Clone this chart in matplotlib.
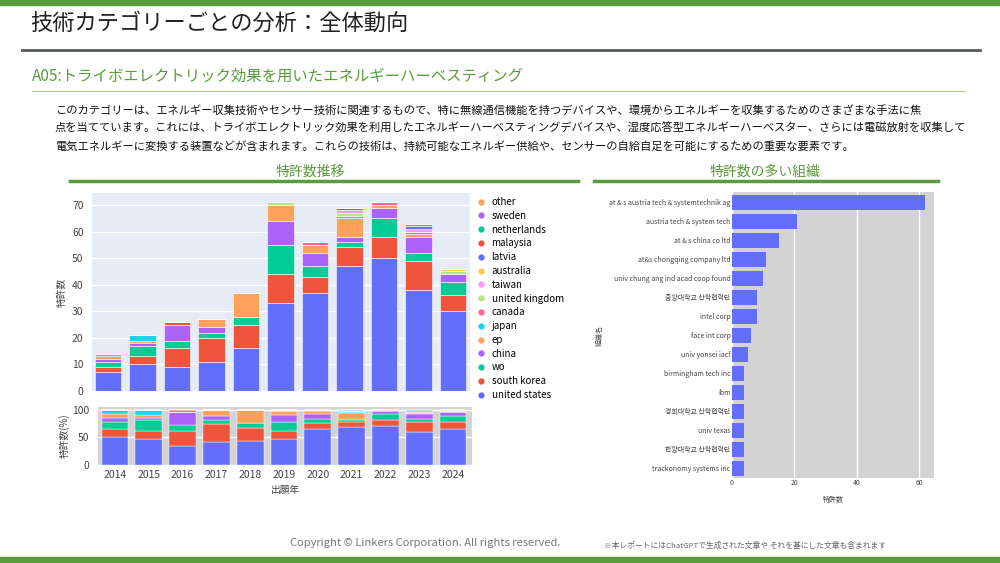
import numpy as np
import matplotlib.pyplot as plt
from matplotlib.lines import Line2D

plt.rcParams['font.family'] = ['Noto Sans CJK JP', 'Noto Sans CJK KR', 'DejaVu Sans']

years = [2014, 2015, 2016, 2017, 2018, 2019, 2020, 2021, 2022, 2023, 2024]

# patent counts per country (bottom of stack first)
united_states = [7, 10, 9, 11, 16, 33, 37, 47, 50, 38, 30]
south_korea = [2, 3, 7, 9, 9, 11, 6, 7, 8, 11, 6]
wo = [2, 4, 3, 2, 3, 11, 4, 2, 7, 3, 5]
china = [1, 1, 6, 2, 0, 9, 5, 2, 4, 6, 3]
ep = [1, 1, 0, 3, 9, 6, 3, 7, 1, 1, 0]
japan = [1, 2, 0, 0, 0, 0, 0, 1, 0, 0, 0]
canada = [0, 0, 0, 0, 0, 0, 1, 0, 1, 1, 0]
united_kingdom = [0, 0, 0, 0, 0, 1, 0, 1, 0, 0, 1]
taiwan = [0, 0, 0, 0, 0, 0, 0, 1, 0, 1, 0]
australia = [0, 0, 0, 0, 0, 0, 0, 0, 0, 0, 1]
latvia = [0, 0, 0, 0, 0, 0, 0, 1, 0, 1, 0]
malaysia = [0, 0, 1, 0, 0, 0, 0, 0, 0, 0, 0]
netherlands = [0, 0, 0, 0, 0, 0, 0, 0, 0, 1, 0]
sweden = [0, 0, 0, 0, 0, 0, 0, 0, 0, 0, 0]
other = [0, 0, 0, 0, 0, 0, 0, 0, 0, 0, 0]

country_names = ['united states', 'south korea', 'wo', 'china', 'ep', 'japan', 'canada',
                 'united kingdom', 'taiwan', 'australia', 'latvia', 'malaysia',
                 'netherlands', 'sweden', 'other']
country_vals = [united_states, south_korea, wo, china, ep, japan, canada, united_kingdom,
                taiwan, australia, latvia, malaysia, netherlands, sweden, other]

orgs = ['at & s austria tech & systemtechnik ag', 'austria tech & system tech',
        'at & s china co ltd', 'at&s chongqing company ltd', 'univ chung ang ind acad coop found',
        '중앙대학교 산학협력단', 'intel corp', 'face int corp', 'univ yonsei iacf',
        'birmingham tech inc', 'ibm', '경희대학교 산학협력단', 'univ texas',
        '한양대학교 산학협력단', 'trackonomy systems inc']
org_counts = [62, 21, 15, 11, 10, 8, 8, 6, 5, 4, 4, 4, 4, 4, 4]

palette = ['#636EFA', '#EF553B', '#00CC96', '#AB63FA', '#FFA15A', '#19D3F3', '#FF6692',
           '#B6E880', '#FF97FF', '#FECB52']
green = '#5a9b3c'

W, H = 1000, 563
fig = plt.figure(figsize=(10, 5.63), dpi=100)


def box(x0, y0, x1, y1):
    # pixel box -> figure fraction rect
    return [x0 / W, 1 - y1 / H, (x1 - x0) / W, (y1 - y0) / H]


# page decorations
fig.patches.append(plt.Rectangle((0, 1 - 5 / H), 1, 5 / H, transform=fig.transFigure, color=green))
fig.patches.append(plt.Rectangle((0, 0), 1, 6 / H, transform=fig.transFigure, color=green))
fig.add_artist(Line2D([22 / W, 980 / W], [1 - 50 / H] * 2, color='#555a5a', lw=2))
fig.add_artist(Line2D([32 / W, 965 / W], [1 - 91 / H] * 2, color='#a8d08d', lw=0.8))
fig.add_artist(Line2D([70 / W, 578 / W], [1 - 181 / H] * 2, color=green, lw=2.5))
fig.add_artist(Line2D([594 / W, 938 / W], [1 - 181 / H] * 2, color=green, lw=2.5))

fig.text(30 / W, 1 - 23 / H, '技術カテゴリーごとの分析：全体動向', fontsize=16, color='#222222', va='center')
fig.text(32 / W, 1 - 76 / H, 'A05:トライボエレクトリック効果を用いたエネルギーハーベスティング',
         fontsize=11.1, color=green, va='center')
para = ['このカテゴリーは、エネルギー収集技術やセンサー技術に関連するもので、特に無線通信機能を持つデバイスや、環境からエネルギーを収集するためのさまざまな手法に焦',
        '点を当てています。これには、トライボエレクトリック効果を利用したエネルギーハーベスティングデバイスや、湿度応答型エネルギーハーベスター、さらには電磁放射を収集して',
        '電気エネルギーに変換する装置などが含まれます。これらの技術は、持続可能なエネルギー供給や、センサーの自給自足を可能にするための重要な要素です。']
for i, line in enumerate(para):
    fig.text(55 / W, 1 - (110 + i * 18) / H, line, fontsize=8.1, color='#111111', va='center')
fig.text(310 / W, 1 - 172 / H, '特許数推移', fontsize=10, color=green, ha='center', va='center')
fig.text(765 / W, 1 - 172 / H, '特許数の多い組織', fontsize=10, color=green, ha='center', va='center')
fig.text(425 / W, 1 - 543 / H, 'Copyright © Linkers Corporation. All rights reserved.',
         fontsize=8, color='#777777', ha='center', va='center')
fig.text(604 / W, 1 - 546 / H, '※本レポートにはChatGPTで生成された文章や それを基にした文章も含まれます',
         fontsize=5.6, color='#666666', va='center')

x = np.arange(len(years))
vals = np.array(country_vals, dtype=float)
totals = vals.sum(axis=0)

# stacked counts
ax1 = fig.add_axes(box(92, 193, 470, 391))
ax1.set_facecolor('#E5ECF6')
bottom = np.zeros(len(years))
handles = []
for i, (name, v) in enumerate(zip(country_names, vals)):
    c = palette[i % len(palette)]
    ax1.bar(x, v, 0.77, bottom=bottom, color=c, edgecolor='white', linewidth=0.4, zorder=3)
    bottom += v
    handles.append(Line2D([], [], marker='o', ls='', color=c, markersize=3.5, label=name))
ax1.set_xlim(-0.46, 10.49)
ax1.set_ylim(0, 74.5)
ax1.set_yticks(range(0, 71, 10))
ax1.set_xticks([])
ax1.grid(axis='y', color='white', lw=1, zorder=0)
for s in ax1.spines.values():
    s.set_visible(False)
ax1.tick_params(axis='y', length=0, labelsize=7.5, labelcolor='#444444', pad=6)
ax1.set_ylabel('特許数', fontsize=7, color='#444444', labelpad=4)

fig.legend(handles=handles[::-1], loc='upper left', bbox_to_anchor=(476 / W, 1 - 197 / H),
           frameon=False, fontsize=7, labelspacing=0.39, handletextpad=0.6, handlelength=1.0,
           borderaxespad=0, borderpad=0)

# percentage
ax2 = fig.add_axes(box(98, 407, 472, 465))
ax2.set_facecolor('#d3d3d3')
bottom = np.zeros(len(years))
for i, v in enumerate(vals):
    p = v / totals * 100
    ax2.bar(x, p, 0.79, bottom=bottom, color=palette[i % len(palette)], edgecolor='white',
            linewidth=0.3, zorder=3)
    bottom += p
ax2.set_xlim(-0.5, 10.56)
ax2.set_ylim(0, 105)
ax2.set_yticks([0, 50, 100])
ax2.set_xticks(x)
ax2.set_xticklabels(years)
ax2.grid(axis='y', color='white', lw=1, zorder=0)
for s in ax2.spines.values():
    s.set_visible(False)
ax2.tick_params(length=0, labelsize=7.5, labelcolor='#444444')
ax2.tick_params(axis='y', pad=6)
ax2.set_ylabel('特許数(%)', fontsize=7, color='#444444', labelpad=2)
ax2.set_xlabel('出願年', fontsize=7, color='#444444', labelpad=4)

# top organisations
ax3 = fig.add_axes(box(732, 192, 934, 478))
ax3.set_facecolor('#d3d3d3')
y = np.arange(len(orgs))
ax3.barh(y, org_counts, 0.79, color='#636EFA', zorder=3)
ax3.set_ylim(len(orgs) - 0.5, -0.55)
ax3.set_xlim(0, 64.8)
ax3.set_yticks(y)
ax3.set_yticklabels(orgs)
ax3.set_xticks([0, 20, 40, 60])
ax3.grid(axis='x', color='white', lw=1, zorder=0)
for s in ax3.spines.values():
    s.set_visible(False)
ax3.tick_params(length=0, labelsize=5, labelcolor='#444444', pad=1)
ax3.set_xlabel('特許数', fontsize=5, color='#444444', labelpad=6)
ax3.set_ylabel('組織名', fontsize=5, color='#444444', labelpad=4)

fig.savefig('out.png', dpi=100)
